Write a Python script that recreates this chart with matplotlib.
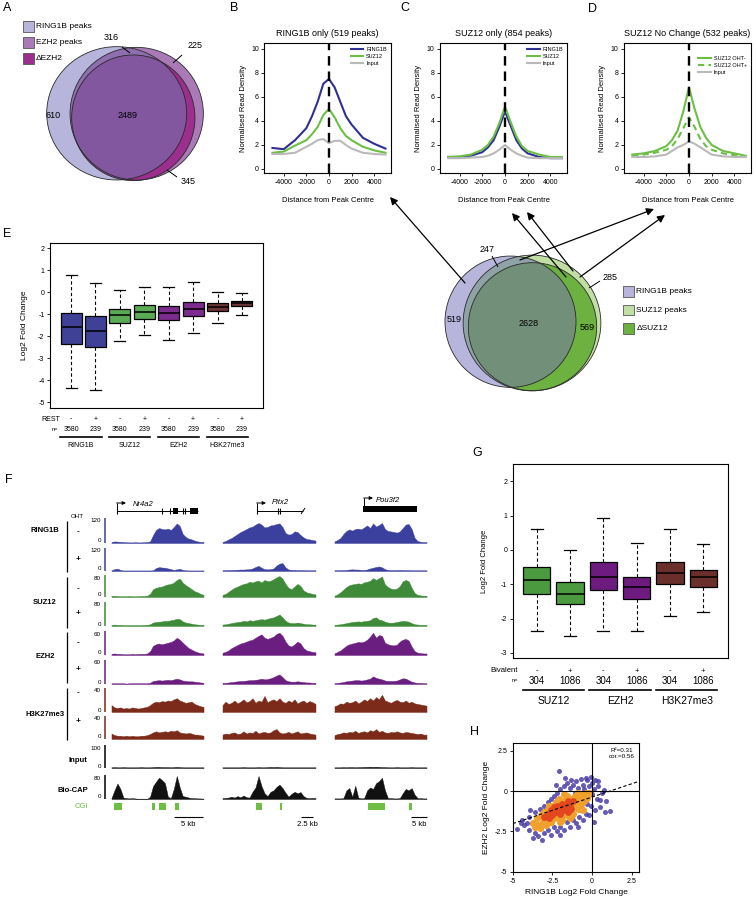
import matplotlib
matplotlib.use('Agg')
import matplotlib.pyplot as plt
from matplotlib.patches import Ellipse, Rectangle
import numpy as np

plt.rcParams['font.family'] = ['Liberation Sans', 'DejaVu Sans']
plt.rcParams['axes.unicode_minus'] = False

# ======================= DATA =======================
# Panel A Venn (RING1B / EZH2 / dEZH2)
vennA_names = ['RING1B peaks', 'EZH2 peaks', '\u0394EZH2']
vennA_counts = [610, 316, 2489, 225, 345]   # R only, R&E no change, R&E&delta, E only, delta only
# Lower Venn (RING1B / SUZ12 / dSUZ12)
vennB_names = ['RING1B peaks', 'SUZ12 peaks', '\u0394SUZ12']
vennB_counts = [519, 247, 2628, 285, 569]

# Panels B-D profiles
profile_dist = [-5000, -4000, -3000, -2000, -1500, -1000, -500, 0, 500, 1000, 1500, 2000, 3000, 4000, 5000]
B_ring1b = [1.75, 1.65, 2.4, 3.4, 4.4, 5.6, 7.1, 7.5, 6.8, 5.6, 4.4, 3.7, 2.6, 2.1, 1.7]
B_suz12 = [1.35, 1.45, 1.95, 2.4, 2.9, 3.5, 4.5, 5.0, 4.3, 3.4, 2.75, 2.4, 1.85, 1.55, 1.35]
B_input = [1.25, 1.25, 1.35, 1.85, 2.1, 2.4, 2.5, 2.15, 2.35, 2.35, 2.0, 1.7, 1.35, 1.25, 1.2]
C_ring1b = [1.0, 1.0, 1.1, 1.4, 1.8, 2.4, 3.5, 4.8, 3.6, 2.4, 1.7, 1.3, 1.0, 0.9, 0.9]
C_suz12 = [1.0, 1.05, 1.2, 1.6, 2.0, 2.7, 3.8, 5.2, 3.9, 2.7, 1.9, 1.5, 1.2, 1.0, 1.0]
C_input = [0.9, 0.9, 0.95, 1.0, 1.1, 1.3, 1.6, 2.0, 1.6, 1.3, 1.1, 0.95, 0.9, 0.9, 0.9]
D_oht_minus = [1.2, 1.3, 1.5, 1.9, 2.4, 3.2, 4.8, 6.8, 5.0, 3.5, 2.6, 2.0, 1.5, 1.3, 1.1]
D_oht_plus = [1.1, 1.2, 1.35, 1.6, 1.9, 2.5, 3.4, 4.3, 3.5, 2.5, 1.9, 1.6, 1.3, 1.15, 1.05]
D_input = [1.0, 1.0, 1.05, 1.2, 1.5, 1.8, 2.0, 2.3, 2.1, 1.8, 1.5, 1.2, 1.05, 1.0, 1.0]

# Panel E boxplots
E_groups = ['RING1B', 'SUZ12', 'EZH2', 'H3K27me3']
E_rest = ['-', '+', '-', '+', '-', '+', '-', '+']
E_n = ['3580', '239', '3580', '239', '3580', '239', '3580', '239']
E_whishi = [0.8, 0.42, 0.1, 0.22, 0.25, 0.46, 0.0, -0.05]
E_q3 = [-0.92, -1.08, -0.77, -0.6, -0.63, -0.42, -0.5, -0.38]
E_med = [-1.6, -1.78, -1.05, -0.9, -0.95, -0.75, -0.65, -0.5]
E_q1 = [-2.33, -2.47, -1.38, -1.2, -1.27, -1.07, -0.87, -0.63]
E_whislo = [-4.35, -4.45, -2.22, -1.95, -2.15, -1.85, -1.38, -1.02]

# Panel G boxplots
G_groups = ['SUZ12', 'EZH2', 'H3K27me3']
G_biv = ['-', '+', '-', '+', '-', '+']
G_n = ['304', '1086', '304', '1086', '304', '1086']
G_whishi = [0.62, 0.0, 0.92, 0.19, 0.6, 0.16]
G_q3 = [-0.49, -0.94, -0.35, -0.78, -0.35, -0.58]
G_med = [-0.88, -1.28, -0.80, -1.09, -0.66, -0.79]
G_q1 = [-1.28, -1.58, -1.18, -1.43, -0.99, -1.08]
G_whislo = [-2.36, -2.52, -2.35, -2.37, -1.92, -1.80]

# Panel F genome tracks (32 bins per locus)
F_genes = ['Nr4a2', 'Pitx2', 'Pou3f2']
F_tracks = ['RING1B -', 'RING1B +', 'SUZ12 -', 'SUZ12 +', 'EZH2 -', 'EZH2 +',
            'H3K27me3 -', 'H3K27me3 +', 'Input', 'Bio-CAP']
F_scale = [120, 120, 80, 80, 60, 60, 40, 40, 100, 80]
F_scalebar = ['5 kb', '2.5 kb', '5 kb']
# locus 1 Nr4a2
r1m = [5, 8, 7, 6, 5, 4, 3, 3, 4, 3, 3, 4, 5, 8, 40, 65, 75, 70, 68, 72, 65, 80, 98, 85, 45, 30, 22, 18, 12, 8, 6, 5]
r1p = [4, 10, 13, 6, 3, 3, 3, 3, 3, 3, 3, 3, 3, 3, 4, 16, 21, 19, 18, 14, 10, 6, 9, 12, 6, 4, 3, 3, 3, 3, 3, 3]
s1m = [4, 5, 4, 3, 3, 3, 4, 3, 3, 3, 4, 4, 5, 12, 30, 35, 38, 40, 45, 48, 50, 55, 65, 70, 55, 45, 38, 30, 22, 18, 12, 8]
s1p = [4, 5, 4, 4, 3, 3, 3, 3, 3, 3, 3, 4, 4, 6, 12, 14, 15, 16, 18, 18, 20, 22, 25, 24, 16, 12, 10, 8, 6, 5, 4, 4]
e1m = [3, 4, 3, 3, 2, 2, 2, 3, 2, 3, 3, 3, 4, 10, 24, 28, 30, 28, 30, 32, 34, 38, 45, 40, 32, 25, 18, 14, 10, 7, 5, 4]
e1p = [2, 2, 2, 2, 2, 1, 2, 2, 2, 2, 2, 2, 2, 3, 8, 9, 10, 9, 10, 11, 10, 12, 14, 12, 9, 8, 7, 7, 6, 5, 4, 3]
k1m = [12, 8, 7, 8, 6, 7, 6, 8, 7, 6, 7, 8, 9, 12, 16, 18, 17, 19, 18, 20, 19, 22, 24, 20, 18, 16, 17, 18, 14, 12, 10, 9]
k1p = [10, 7, 6, 6, 5, 6, 5, 6, 5, 5, 6, 6, 7, 9, 12, 14, 12, 13, 14, 13, 15, 14, 16, 12, 11, 10, 11, 10, 8, 8, 7, 6]
i1 = [3, 4, 3, 3, 4, 3, 3, 3, 3, 3, 4, 3, 3, 3, 4, 5, 5, 4, 4, 4, 3, 4, 5, 4, 3, 3, 3, 3, 3, 3, 3, 3]
b1 = [3, 30, 54, 35, 5, 3, 2, 3, 2, 0, 0, 0, 0, 8, 45, 60, 74, 66, 55, 8, 3, 35, 80, 40, 10, 8, 5, 3, 3, 2, 2, 1]
# locus 2 Pitx2
r2m = [5, 10, 18, 25, 35, 45, 55, 62, 70, 78, 82, 92, 100, 92, 78, 80, 88, 90, 95, 98, 80, 50, 42, 45, 58, 55, 40, 28, 20, 18, 15, 12]
r2p = [4, 5, 5, 6, 6, 7, 8, 8, 9, 10, 14, 22, 28, 18, 10, 9, 10, 14, 30, 40, 43, 20, 8, 6, 6, 5, 5, 5, 4, 4, 4, 4]
s2m = [8, 12, 20, 28, 35, 40, 45, 50, 52, 58, 55, 60, 62, 55, 65, 60, 62, 68, 75, 80, 70, 50, 35, 30, 40, 50, 42, 25, 18, 15, 12, 10]
s2p = [5, 6, 8, 10, 12, 14, 15, 18, 16, 20, 18, 20, 22, 24, 22, 25, 28, 30, 35, 40, 30, 18, 12, 10, 10, 12, 10, 8, 6, 6, 5, 5]
e2m = [6, 8, 12, 18, 22, 26, 30, 32, 35, 38, 40, 45, 50, 54, 45, 42, 45, 48, 55, 58, 50, 35, 25, 22, 28, 35, 30, 18, 12, 10, 8, 7]
e2p = [3, 3, 4, 5, 6, 7, 8, 8, 9, 10, 10, 11, 12, 14, 12, 13, 15, 18, 22, 25, 18, 10, 7, 6, 6, 7, 6, 5, 4, 4, 3, 3]
k2m = [12, 18, 14, 16, 20, 15, 18, 22, 17, 19, 24, 16, 20, 18, 28, 17, 20, 22, 19, 24, 18, 16, 20, 17, 22, 15, 18, 20, 16, 19, 17, 14]
k2p = [8, 10, 9, 11, 12, 9, 10, 14, 10, 12, 11, 15, 10, 12, 13, 11, 12, 16, 18, 12, 10, 11, 13, 10, 12, 14, 10, 11, 12, 10, 9, 8]
i2 = [3, 3, 3, 3, 3, 3, 3, 4, 3, 3, 3, 3, 4, 3, 3, 4, 5, 4, 5, 4, 3, 3, 3, 3, 3, 3, 3, 3, 3, 3, 3, 3]
b2 = [3, 4, 5, 8, 5, 10, 6, 12, 6, 5, 25, 40, 80, 45, 20, 10, 25, 30, 42, 50, 38, 22, 8, 18, 25, 20, 24, 10, 4, 3, 4, 3]
# locus 3 Pou3f2
r3m = [8, 15, 25, 45, 60, 68, 62, 70, 72, 68, 78, 88, 75, 98, 82, 90, 100, 70, 60, 58, 55, 52, 58, 75, 92, 95, 70, 25, 10, 6, 5, 4]
r3p = [4, 4, 5, 5, 6, 8, 9, 8, 8, 6, 6, 8, 14, 18, 22, 25, 20, 10, 6, 5, 5, 5, 6, 5, 5, 5, 4, 4, 4, 4, 4, 4]
s3m = [5, 10, 18, 28, 38, 45, 48, 50, 52, 50, 56, 58, 62, 72, 65, 72, 78, 48, 38, 32, 30, 32, 42, 60, 65, 60, 35, 15, 8, 6, 5, 5]
s3p = [4, 5, 6, 8, 10, 12, 14, 15, 16, 15, 17, 18, 20, 28, 30, 22, 20, 15, 12, 11, 12, 14, 16, 18, 17, 15, 10, 6, 5, 4, 4, 4]
e3m = [4, 8, 12, 18, 24, 28, 30, 32, 34, 33, 35, 40, 48, 58, 45, 52, 50, 32, 28, 26, 25, 27, 35, 40, 42, 38, 22, 10, 6, 5, 4, 4]
e3p = [2, 3, 4, 5, 7, 8, 9, 10, 10, 9, 10, 12, 14, 20, 16, 14, 12, 9, 8, 8, 8, 9, 12, 15, 14, 10, 6, 4, 3, 3, 2, 2]
k3m = [10, 12, 15, 14, 18, 16, 17, 20, 15, 18, 22, 19, 24, 20, 26, 22, 30, 20, 18, 16, 19, 21, 18, 17, 20, 16, 18, 15, 14, 13, 12, 11]
k3p = [7, 9, 10, 12, 11, 13, 12, 15, 11, 13, 14, 12, 16, 14, 18, 13, 15, 12, 11, 13, 12, 14, 12, 11, 13, 12, 11, 10, 9, 10, 8, 8]
i3 = [3, 3, 3, 4, 3, 4, 4, 3, 4, 4, 5, 5, 6, 5, 6, 5, 4, 4, 3, 3, 3, 4, 3, 3, 3, 3, 4, 3, 3, 3, 3, 3]
b3 = [2, 2, 2, 3, 30, 38, 8, 46, 5, 2, 3, 30, 40, 35, 55, 62, 74, 30, 3, 3, 2, 2, 3, 20, 35, 30, 38, 15, 3, 3, 2, 2]
# CpG islands (bin coordinates within each locus)
cgi_l1 = [(1.35, 4.04), (14.1, 15.2), (16.5, 18.9), (21.9, 23.2)]
cgi_l2 = [(11.7, 13.7), (19.7, 20.3)]
cgi_l3 = [(11.8, 17.5), (25.6, 26.6)]

# Panel H scatter
H_stats = ['R\u00b2=0.31', 'cor.=0.56']
H_fit = [0.33, -0.37]   # slope, intercept
H_out_x = [-4.7, -4.4, -4.3, -4.0, -4.0, -3.8, -3.6, -3.6, -3.4, -3.15, -3.3, -3.2, -3.0, -3.0, -2.8, -2.8, -2.6, -2.6,
           -2.4, -2.4, -2.2, -2.2, -2.09, -2.0, -2.0, -1.8, -1.8, -1.6, -1.6, -1.4, -1.4, -1.35, -1.2, -1.2, -1.0, -1.0,
           -0.9, -0.8, -0.73, -0.6, -0.6, -0.5, -0.4, -0.32, -0.2, -0.2, -0.1, 0.0, 0.1, 0.1, 0.2, 0.2, 0.3, 0.4, 0.52,
           0.6, 0.73, 0.5, 1.14, -3.9, -2.5, -1.9, -0.7, -0.3, 0.0, -1.1, -2.7, -3.4, -4.1, -0.4, -0.1, 0.35, -1.7, -2.3,
           0.9, 0.8, -0.9, -2.0, -3.7, -4.5]
H_out_y = [-2.35, -1.8, -2.1, -1.6, -2.4, -2.0, -1.3, -2.6, -2.8, -3.05, -1.1, -2.3, -0.9, -2.6, -0.7, -2.4, -0.5, -2.7,
           -0.3, -2.2, -0.1, -2.5, 1.23, 0.1, -2.2, 0.3, -2.4, 0.5, -1.9, 0.2, -2.2, 0.67, 0.4, -1.8, 0.6, -2.0,
           0.2, -1.6, 0.77, 0.4, -1.8, 0.1, -1.4, 0.67, 0.3, -1.5, -0.9, 0.5, -1.94, 0.1, 0.67, -1.2, -0.5, 0.3, -0.58,
           -0.1, 0.04, -1.0, -1.21, -1.2, -1.8, -1.6, -1.2, -0.8, -0.2, -0.1, -2.0, -1.7, -2.0, 0.8, 0.9, 0.6, 0.8, 0.4,
           -0.6, -1.3, -2.2, -2.7, -2.9, -2.0]
H_mid_x = [-3.7, -3.5, -3.4, -3.2, -3.1, -3.0, -2.9, -2.9, -2.8, -2.7, -2.6, -2.5, -2.5, -2.4, -2.3, -2.2, -2.2, -2.1,
           -2.0, -1.9, -1.9, -1.8, -1.7, -1.6, -1.6, -1.5, -1.4, -1.3, -1.2, -1.2, -1.1, -1.0, -0.9, -0.8, -0.7, -0.6,
           -0.5, -0.4, -0.3, -0.2, -3.3, -2.7, -1.4, -0.9, -1.8, -2.0, -3.6, -0.6]
H_mid_y = [-2.0, -1.7, -2.1, -1.5, -1.9, -1.3, -1.7, -2.1, -1.1, -1.5, -1.9, -0.9, -1.4, -1.7, -0.7, -1.2, -1.6, -0.5,
           -0.9, -1.4, -1.8, -0.6, -1.1, -0.3, -1.5, -0.8, -1.2, -0.5, -0.9, -1.4, -0.3, -0.7, -1.1, -0.4, -0.8, -0.2,
           -0.6, -0.1, -0.4, -0.1, -2.3, -0.9, -1.7, -0.1, -0.2, -1.9, -2.2, -1.2]
H_core_x = [-2.8, -2.6, -2.5, -2.4, -2.3, -2.2, -2.1, -2.0, -2.0, -1.9, -1.8, -1.7, -1.6, -1.5, -1.5, -1.4, -1.3, -2.7, -3.0, -1.2]
H_core_y = [-1.4, -1.2, -1.5, -1.0, -1.3, -0.9, -1.2, -1.4, -1.0, -0.8, -1.2, -0.9, -1.1, -1.3, -0.6, -0.9, -1.1, -1.7, -1.6, -0.6]

# ======================= FIGURE =======================
W, H = 756, 898
fig = plt.figure(figsize=(W / 100, H / 100), dpi=100)
fig.patch.set_facecolor('white')


def add_ax(l, t, r, b, **kw):
    return fig.add_axes([l / W, (H - b) / H, (r - l) / W, (b - t) / H], **kw)


ov = fig.add_axes([0, 0, 1, 1])
ov.set_xlim(0, W)
ov.set_ylim(H, 0)
ov.axis('off')
ov.set_zorder(10)


def T(x, y, s, size, ha='center', va='center', **kw):
    ov.text(x, y, s, fontsize=size, ha=ha, va=va, **kw)


def line(xs, ys, **kw):
    kw.setdefault('color', 'black')
    kw.setdefault('lw', 0.7)
    ov.plot(xs, ys, solid_capstyle='butt', **kw)


# panel letters
for lab, (x, y) in zip('ABCDEFGH', [(3, 2), (230, 2), (400, 2), (588, 3), (3, 228), (5, 474), (472, 447), (470, 726)]):
    T(x, y, lab, 9, ha='left', va='top')


# ---------------- Venns ----------------
def venn(c1, c2, c3, cols, counts, names, label_pos, leaders, legend_xy):
    e1 = Ellipse(c1[:2], c1[2], c1[3], fc=cols[0], ec='none', zorder=1)
    e2 = Ellipse(c2[:2], c2[2], c2[3], fc=cols[1], ec='none', zorder=1)
    ov.add_patch(e2)
    ov.add_patch(e1)
    e12 = Ellipse(c2[:2], c2[2], c2[3], fc=cols[3], ec='none', zorder=2)
    ov.add_patch(e12)
    e12.set_clip_path(e1)
    e3 = Ellipse(c3[:2], c3[2], c3[3], fc=cols[2], ec='none', zorder=3)
    ov.add_patch(e3)
    e13 = Ellipse(c3[:2], c3[2], c3[3], fc=cols[4], ec='none', zorder=4)
    ov.add_patch(e13)
    e13.set_clip_path(e1)
    for c in (c1, c2, c3):
        ov.add_patch(Ellipse(c[:2], c[2], c[3], fill=False, ec='#2a2a2a', lw=0.6, zorder=5))
    for cnt, (x, y) in zip(counts, label_pos):
        T(x, y, str(cnt), 6.5, zorder=6)
    for (x0, y0, x1, y1) in leaders:
        line([x0, x1], [y0, y1], lw=0.7, zorder=6)
    lx, ly, dy = legend_xy
    for i, nm in enumerate(names):
        ov.add_patch(Rectangle((lx, ly + i * dy), 11, 10.5, fc=cols[i], ec='#555555', lw=0.6, zorder=6))
        T(lx + 13.5, ly + i * dy + 5.5, nm, 6, ha='left', zorder=6)


venn((116.7, 113.3, 140, 133.3), (136.7, 113.7, 133.3, 132.7), (133.3, 117.8, 123.3, 125.7),
     ['#B7B5DC', '#A97AB6', '#9C2E8E', '#8E6EAE', '#8356A0'],
     vennA_counts, vennA_names,
     [(53, 115), (111, 37), (128, 115), (195, 45), (188, 181)],
     [(122, 47, 130, 53), (182, 55, 173, 63), (167, 170, 177, 177)],
     (22.5, 21, 16))

venn((510.5, 321.7, 131, 131.3), (532, 323, 137.7, 135.7), (532.5, 326.7, 128.4, 128),
     ['#B7B5DC', '#C1DEA5', '#6DB241', '#8FA3A7', '#728F7A'],
     vennB_counts, vennB_names,
     [(454, 319), (487, 249), (529, 324), (610, 277), (587, 327)],
     [(492, 256, 498, 267), (600, 281, 589, 288)],
     (623, 286, 18.5))

# arrows from lower venn to panels
for (sx, sy), (tx, ty) in [((465, 283), (390, 197)), ((566, 277), (512, 213)), ((573, 271), (527, 212)),
                           ((520, 260), (654, 209)), ((580, 277), (665, 215))]:
    ov.annotate('', xy=(tx, ty), xytext=(sx, sy),
                arrowprops=dict(arrowstyle='-|>', color='black', lw=0.9, mutation_scale=11,
                                shrinkA=0, shrinkB=0), zorder=8)

# ---------------- profiles B-D ----------------
RC, SC, IC = '#2E3192', '#6CBE45', '#B9B9B9'
prof_specs = [
    ((264.3, 43.3, 390.7, 173.3), 'RING1B only (519 peaks)',
     [(B_ring1b, RC, '-', 'RING1B'), (B_suz12, SC, '-', 'SUZ12'), (B_input, IC, '-', 'Input')], 1.0),
    ((440, 43.3, 567, 173.3), 'SUZ12 only (854 peaks)',
     [(C_ring1b, RC, '-', 'RING1B'), (C_suz12, SC, '-', 'SUZ12'), (C_input, IC, '-', 'Input')], 1.0),
    ((624, 43.3, 751, 173.3), 'SUZ12 No Change (532 peaks)',
     [(D_oht_minus, SC, '-', 'SUZ12 OHT-'), (D_oht_plus, SC, (0, (3, 2)), 'SUZ12 OHT+'), (D_input, IC, '-', 'Input')], 0.93),
]
for box, title, series, legy in prof_specs:
    ax = add_ax(*box)
    for vals, col, ls, lab in series:
        ax.plot(profile_dist, vals, color=col, lw=1.5, ls=ls, label=lab)
    ax.axvline(0, color='black', lw=1.7, dashes=(4, 2.5))
    ax.set_xlim(-5720, 5460)
    ax.set_ylim(-0.36, 10.47)
    ax.set_xticks([-4000, -2000, 0, 2000, 4000])
    ax.set_yticks([0, 2, 4, 6, 8, 10])
    ax.tick_params(labelsize=5, length=2.5, width=0.6, pad=1.5)
    for s in ax.spines.values():
        s.set_linewidth(0.8)
    ax.legend(loc='upper right', bbox_to_anchor=(1.0, legy), fontsize=4, frameon=False,
              handlelength=2.3, handletextpad=0.5, labelspacing=0.35, borderaxespad=0.3)
    cx = (box[0] + box[2]) / 2
    T(cx, 33, title, 6.5)
    T(cx, 201, 'Distance from Peak Centre', 5.5)
    T(box[0] - 21, (box[1] + box[3]) / 2, 'Normalised Read Density', 5.5, rotation=90)


# ---------------- box plots ----------------
def boxpanel(box, xlim, ylim, yticks, whishi, q3, med, q1, whislo, colors, width, capw):
    ax = add_ax(*box)
    stats = [dict(med=m, q1=a, q3=b, whislo=lo, whishi=hi, fliers=[])
             for hi, b, m, a, lo in zip(whishi, q3, med, q1, whislo)]
    pos = list(range(1, len(stats) + 1))
    bp = ax.bxp(stats, positions=pos, widths=width, patch_artist=True, manage_ticks=False,
                capwidths=capw,
                boxprops=dict(edgecolor='black', linewidth=0.9),
                medianprops=dict(color='black', linewidth=1.1),
                whiskerprops=dict(color='black', linewidth=0.8, linestyle=(0, (3, 2.2))),
                capprops=dict(color='black', linewidth=0.9))
    for p, c in zip(bp['boxes'], colors):
        p.set_facecolor(c)
    ax.set_xlim(*xlim)
    ax.set_ylim(*ylim)
    ax.set_yticks(yticks)
    ax.set_xticks([])
    ax.tick_params(labelsize=5, length=2.5, width=0.6, pad=1.5)
    for s in ax.spines.values():
        s.set_linewidth(0.8)
    return ax, pos


def yf(box, ypx):
    return (box[3] - ypx) / (box[3] - box[1])


# Panel E
Ebox = (50, 243, 263, 408)
E_colors = ['#3F4197'] * 2 + ['#5BAA55'] * 2 + ['#7E2B8F'] * 2 + ['#6D3535'] * 2
axE, posE = boxpanel(Ebox, (0.14, 8.86), (-5.26, 2.24), range(-5, 3), E_whishi, E_q3, E_med, E_q1, E_whislo,
                     E_colors, 0.86, 0.45)
tr = axE.get_xaxis_transform()
axE.text(0.56, yf(Ebox, 419), 'REST', transform=tr, fontsize=5, ha='right', va='center', clip_on=False)
axE.text(0.48, yf(Ebox, 429), 'n=', transform=tr, fontsize=4, ha='right', va='center', clip_on=False)
for p, s, n in zip(posE, E_rest, E_n):
    axE.text(p, yf(Ebox, 419), s, transform=tr, fontsize=5, ha='center', va='center', clip_on=False)
    axE.text(p, yf(Ebox, 429), n, transform=tr, fontsize=5, ha='center', va='center', clip_on=False)
for i, g in enumerate(E_groups):
    p1, p2 = posE[2 * i], posE[2 * i + 1]
    axE.plot([p1 - 0.45, p2 + 0.25], [yf(Ebox, 437)] * 2, transform=tr, color='black', lw=1.2, clip_on=False)
    axE.text((p1 + p2) / 2 - 0.1, yf(Ebox, 445), g, transform=tr, fontsize=5, ha='center', va='center', clip_on=False)
T(25, (Ebox[1] + Ebox[3]) / 2, 'Log2 Fold Change', 6, rotation=90)

# Panel G
Gbox = (512.7, 463.6, 728.3, 658.3)
G_colors = ['#4C9A40'] * 2 + ['#6E1B80'] * 2 + ['#6B2F2B'] * 2
axG, posG = boxpanel(Gbox, (0.28, 6.75), (-3.16, 2.52), range(-3, 3), G_whishi, G_q3, G_med, G_q1, G_whislo,
                     G_colors, 0.82, 0.36)
tr = axG.get_xaxis_transform()
axG.text(0.45, yf(Gbox, 671), 'Bivalent', transform=tr, fontsize=5.5, ha='right', va='center', clip_on=False)
axG.text(0.45, yf(Gbox, 681), 'n=', transform=tr, fontsize=4, ha='right', va='center', clip_on=False)
for p, s, n in zip(posG, G_biv, G_n):
    axG.text(p, yf(Gbox, 671), s, transform=tr, fontsize=5.5, ha='center', va='center', clip_on=False)
    axG.text(p, yf(Gbox, 681), n, transform=tr, fontsize=7, ha='center', va='center', clip_on=False)
for i, g in enumerate(G_groups):
    p1, p2 = posG[2 * i], posG[2 * i + 1]
    axG.plot([p1 - 0.42, p2 + 0.42], [yf(Gbox, 690)] * 2, transform=tr, color='black', lw=1.2, clip_on=False)
    axG.text((p1 + p2) / 2, yf(Gbox, 701), g, transform=tr, fontsize=7.5, ha='center', va='center', clip_on=False)
T(484, (Gbox[1] + Gbox[3]) / 2, 'Log2 Fold Change', 5.5, rotation=90)

# ---------------- Panel F tracks ----------------
loci_x = [(110, 205), (221, 317), (333, 428)]
track_top = [519, 549, 576, 603, 632, 661, 689, 717, 746, 776]
track_base = [543, 571, 597, 626, 655, 684, 712, 739, 768, 799]
track_col = ['#3B409E', '#3B409E', '#3E8A38', '#3E8A38', '#6A1E80', '#6A1E80',
             '#7C2A1A', '#7C2A1A', '#111111', '#111111']
locus_data = [[r1m, r1p, s1m, s1p, e1m, e1p, k1m, k1p, i1, b1],
              [r2m, r2p, s2m, s2p, e2m, e2p, k2m, k2p, i2, b2],
              [r3m, r3p, s3m, s3p, e3m, e3p, k3m, k3p, i3, b3]]
for li, (lx0, lx1) in enumerate(loci_x):
    for ti in range(len(F_tracks)):
        vals = locus_data[li][ti]
        ax = add_ax(lx0, track_top[ti], lx1, track_base[ti])
        xs = np.arange(len(vals)) + 0.5
        ax.fill_between(xs, vals, color=track_col[ti], lw=0.3, edgecolor=track_col[ti])
        ax.plot([0, len(vals)], [0, 0], color=track_col[ti], lw=0.8)
        ax.set_xlim(0, len(vals))
        ax.set_ylim(0, F_scale[ti])
        ax.axis('off')
    cax = add_ax(lx0, 803, lx1, 810)
    for a, b in [cgi_l1, cgi_l2, cgi_l3][li]:
        cax.add_patch(Rectangle((a, 0), b - a, 1, fc='#6DBE45', ec='none'))
    cax.set_xlim(0, 32)
    cax.set_ylim(0, 1)
    cax.axis('off')

for ti in range(len(F_tracks)):
    line([104.5, 104.5], [track_top[ti] - 1, track_base[ti]], color=track_col[ti] if ti < 8 else 'black', lw=1.1)
    T(101, track_top[ti] + 2, str(F_scale[ti]), 4.5, ha='right')
    T(101, track_base[ti] - 2, '0', 4.5, ha='right')

T(77, 517, 'OHT', 4.5)
for nm, y, (b0, b1_) in [('RING1B', 531, (521, 572)), ('SUZ12', 602, (577, 628)),
                         ('EZH2', 657, (632, 683)), ('H3K27me3', 714, (688, 740))]:
    T(45, y, nm, 5.5, fontweight='bold')
    line([67, 67], [b0, b1_], lw=0.9)
for y, s in [(532, '-'), (560, '+'), (589, '-'), (613, '+'), (643, '-'), (669, '+'), (693, '-'), (721, '+')]:
    T(78, y, s, 6, fontweight='bold')
T(78, 761, 'Input', 5.5, fontweight='bold')
T(73, 791, 'Bio-CAP', 5.5, fontweight='bold')
T(81, 807, 'CGI', 5.5, color='#6DBE45')

# gene models
line([117, 198], [511, 511], lw=0.7)
for x in [117, 162, 170, 183, 185]:
    line([x, x], [508, 514], lw=0.8)
for x0, x1 in [(173, 178), (190, 198)]:
    ov.add_patch(Rectangle((x0, 508), x1 - x0, 6, fc='black', ec='none'))
line([257, 303], [511, 511], lw=0.7)
for x in [257, 278, 280]:
    line([x, x], [508, 514], lw=0.8)
line([301, 305], [514, 508], lw=0.7)
ov.add_patch(Rectangle((363, 506), 54, 6, fc='black', ec='none'))
for tx, ty0, ty1 in [(117, 511, 503), (257, 511, 503), (364, 506, 498)]:
    line([tx, tx], [ty0, ty1], lw=0.7)
    ov.annotate('', xy=(tx + 9, ty1), xytext=(tx - 0.3, ty1),
                arrowprops=dict(arrowstyle='-|>', color='black', lw=0.7, mutation_scale=5, shrinkA=0, shrinkB=0))
T(143, 504, F_genes[0], 5.5, style='italic')
T(280, 503, F_genes[1], 5.5, style='italic')
T(388, 501, F_genes[2], 5.5, style='italic')

# scale bars
for (x0, x1), lab in zip([(174, 203), (301, 313), (411, 427)], F_scalebar):
    line([x0, x1], [817, 817], lw=0.8)
    T((x0 + x1) / 2, 824, lab, 5.5, ha='center', va='center')

# ---------------- Panel H ----------------
Hbox = (512.7, 742.7, 639, 872)
axH = add_ax(*Hbox)
axH.scatter(H_out_x, H_out_y, s=13, color='#4A3DA8', alpha=0.85, lw=0, zorder=2)
axH.scatter(H_mid_x, H_mid_y, s=26, color='#F0A02C', lw=0, zorder=3)
axH.scatter(H_core_x, H_core_y, s=24, color='#E2471E', lw=0, zorder=4)
axH.axhline(0, color='black', lw=0.8, zorder=5)
axH.axvline(0, color='black', lw=0.8, zorder=5)
fx = np.array([-5.0, 2.95])
axH.plot(fx, H_fit[0] * fx + H_fit[1], color='black', lw=0.8, dashes=(3, 2), zorder=6)
axH.set_xlim(-5, 2.95)
axH.set_ylim(-5.02, 3.0)
axH.set_xticks([-5, -2.5, 0, 2.5])
axH.set_xticklabels(['-5', '-2.5', '0', '2.5'])
axH.set_yticks([-5, -2.5, 0, 2.5])
axH.set_yticklabels(['-5', '-2.5', '0', '2.5'])
axH.tick_params(labelsize=5, length=2.5, width=0.6, pad=1.5)
for s in axH.spines.values():
    s.set_linewidth(0.8)
axH.text(0.86, 0.94, H_stats[0], transform=axH.transAxes, fontsize=4.5, ha='center', va='center')
axH.text(0.86, 0.89, H_stats[1], transform=axH.transAxes, fontsize=4.5, ha='center', va='center')
T(576, 893, 'RING1B Log2 Fold Change', 6)
T(487, (Hbox[1] + Hbox[3]) / 2, 'EZH2 Log2 Fold Change', 6, rotation=90)

fig.savefig('out.png', dpi=100, facecolor='white')
